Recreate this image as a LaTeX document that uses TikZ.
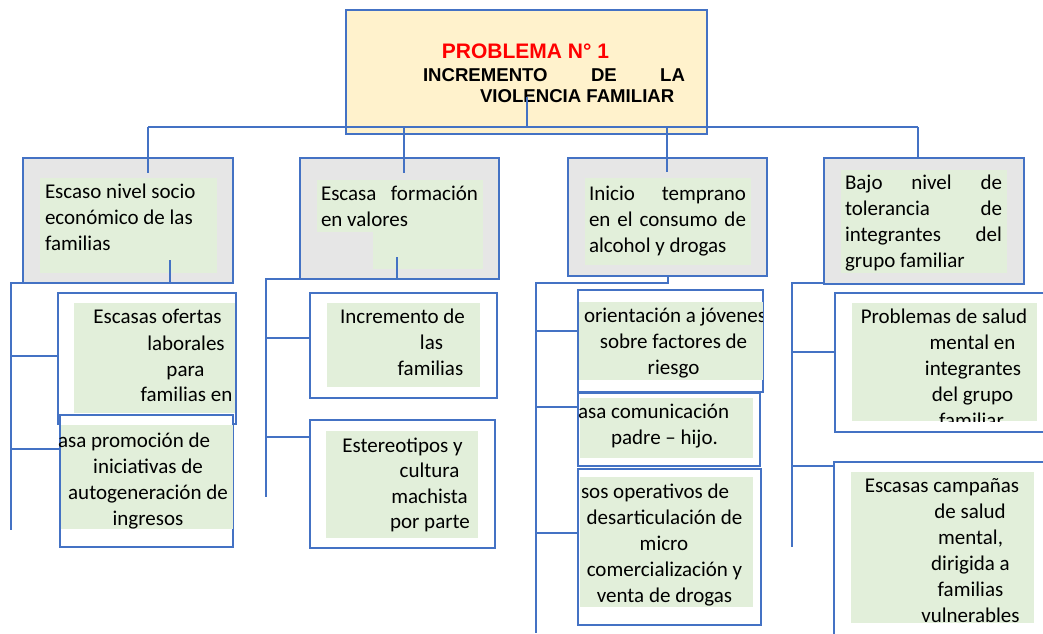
\documentclass[tikz,border=0pt]{standalone}
\usepackage{fontspec}
\setmainfont{Carlito}
\newfontfamily\arialf{Liberation Sans}
\definecolor{bl}{HTML}{4472C4}
\definecolor{gr}{HTML}{E2EFDA}
\definecolor{gy}{HTML}{E6E6E6}
\definecolor{yl}{HTML}{FFF2CC}
\definecolor{rd}{HTML}{FF0000}
\newcounter{ln}
\newcommand\tl[4][]{\stepcounter{ln}\node[txt,#1] (l\arabic{ln}) at (#2,#3) {#4};}
\tikzset{
  box/.style={draw=bl, line width=2.5pt, anchor=north west, inner sep=0pt, outer sep=0pt, fill=white},
  mainbox/.style={box, fill=gy},
  topbox/.style={box, fill=yl},
  conn/.style={draw=bl, line width=1.2pt},
  txt/.style={inner sep=0pt, outer sep=0pt, anchor=base, font=\fontsize{21}{26}\selectfont},
  ttl/.style={txt, font=\arialf\bfseries\fontsize{21}{25}\selectfont, text=rd},
  sub/.style={txt, anchor=base west, font=\arialf\bfseries\fontsize{18.6}{21}\selectfont},
}
\begin{document}
\begin{tikzpicture}[x=1pt,y=-1pt]
\useasboundingbox (0,0) rectangle (1043,633);
\fill[white] (0,0) rectangle (1043,633);
% top box
\node[topbox, minimum width=361pt, minimum height=124pt] (top) at (346,10) {};
\tl[ttl]{525.5}{58}{PROBLEMA N° 1}
\tl[sub]{423}{81}{\makebox[262pt][s]{INCREMENTO DE LA}}
\tl[sub]{480}{102}{VIOLENCIA FAMILIAR}
% main boxes
\node[mainbox, minimum width=210pt, minimum height=125pt] (m1) at (23,158) {};
\node[mainbox, minimum width=199pt, minimum height=121pt] (m2) at (300,158) {};
\node[mainbox, minimum width=199pt, minimum height=118pt] (m3) at (568,158) {};
\node[mainbox, minimum width=200pt, minimum height=126pt] (m4) at (824,158) {};
\fill[gr] (40,178) rectangle (217,273);
\fill[gr] (317,180) rectangle (483,232);
\fill[gr] (373,232) rectangle (483,269);
\fill[gr] (585,178) rectangle (751,265);
\fill[gr] (841,170) rectangle (1007,273);
\tl[anchor=base west]{45}{198}{Escaso nivel socio}
\tl[anchor=base west]{45}{224}{económico de las}
\tl[anchor=base west]{45}{250}{familias}
\tl[anchor=base west]{321}{200}{\makebox[157pt][s]{Escasa formación}}
\tl[anchor=base west]{321}{226}{en valores}
\tl[anchor=base west]{589}{200}{\makebox[157pt][s]{Inicio temprano}}
\tl[anchor=base west]{589}{226}{\makebox[157pt][s]{en el consumo de}}
\tl[anchor=base west]{589}{252}{alcohol y drogas}
\tl[anchor=base west]{845}{189}{\makebox[157pt][s]{Bajo nivel de}}
\tl[anchor=base west]{845}{215}{\makebox[157pt][s]{tolerancia de}}
\tl[anchor=base west]{845}{241}{\makebox[157pt][s]{integrantes del}}
\tl[anchor=base west]{845}{267}{grupo familiar}
% column 1 sub boxes
\node[box, minimum width=178pt, minimum height=131pt] (s1a) at (58,293) {};
\fill[gr] (74,303) rectangle (235,413);
\tl{157.5}{323}{Escasas ofertas}
\tl{186}{350}{laborales}
\tl{185.5}{376}{para}
\tl{186.5}{401}{familias en}
\node[box, minimum width=173pt, minimum height=132pt] (s1b) at (60,415) {};
\fill[gr] (61,425) rectangle (233,529);
\tl[anchor=base west]{58}{447}{asa promoción de}
\tl{148}{473}{iniciativas de}
\tl{148}{499}{autogeneración de}
\tl{148}{525}{ingresos}
% column 2 sub boxes
\node[box, minimum width=187pt, minimum height=105pt] (s2a) at (310,293) {};
\fill[gr] (327,303) rectangle (480,387);
\tl{402.5}{323}{Incremento de}
\tl{431.5}{349}{las}
\tl{430.5}{375}{familias}
\node[box, minimum width=185pt, minimum height=128pt] (s2b) at (310,420) {};
\fill[gr] (326,431) rectangle (478,538);
\tl{402.5}{452}{Estereotipos y}
\tl{429.5}{477}{cultura}
\tl{429.5}{503}{machista}
\tl{430}{528}{por parte}
% column 3 sub boxes
\node[box, minimum width=185pt, minimum height=102pt] (s3a) at (578,290) {};
\fill[gr] (579,302) rectangle (763,380);
\begin{scope}
\clip (579,291) rectangle (762,391);
\tl[anchor=base west]{584}{322}{orientación a jóvenes}
\end{scope}
\tl{673.5}{348}{sobre factores de}
\tl{673.5}{374}{riesgo}
\node[box, minimum width=182pt, minimum height=73pt] (s3b) at (578,393) {};
\fill[gr] (580,398) rectangle (753,458);
\tl[anchor=base west]{578}{418}{asa comunicación}
\tl{664.5}{444}{padre – hijo.}
\node[box, minimum width=183pt, minimum height=156pt] (s3c) at (578,469) {};
\fill[gr] (580,477) rectangle (753,607);
\tl[anchor=base west]{581}{498}{sos operativos de}
\tl{664.5}{524}{desarticulación de}
\tl{664}{550}{micro}
\tl{664.5}{576}{comercialización y}
\tl{664.5}{602}{venta de drogas}
% column 4 sub boxes
\node[box, minimum width=225pt, minimum height=139pt] (s4a) at (835,293) {};
\fill[gr] (852,303) rectangle (1037,421);
\tl{944}{323}{Problemas de salud}
\tl{972.5}{349}{mental en}
\tl{973}{375}{integrantes}
\tl{972.5}{401}{del grupo}
\begin{scope}
\clip (852,303) rectangle (1037,421);
\tl{971.5}{427}{familiar}
\end{scope}
\node[box, minimum width=226pt, minimum height=188pt] (s4b) at (834,462) {};
\fill[gr] (851,472) rectangle (1034,623);
\tl{942}{492}{Escasas campañas}
\tl{970}{518}{de salud}
\tl{970.5}{544}{mental,}
\tl{970.5}{570}{dirigida a}
\tl{970.5}{596}{familias}
\tl{970.5}{622}{vulnerables}
% connectors
\coordinate (tp) at (527,97);
\coordinate (busL) at (148,127);
\coordinate (busR) at (918,127);
\coordinate (busC) at (527,127);
\draw[conn] (tp) -- (busC);
\draw[conn] (busL) -- (busR);
\coordinate (d1) at (148,173);
\coordinate (d2) at (404,173);
\coordinate (d3) at (667,172);
\draw[conn] (busL) -- (d1);
\draw[conn] (busL -| d2) -- (d2);
\draw[conn] (busL -| d3) -- (d3);
\draw[conn] (busR) -- (m4.north -| busR);
% column 1
\coordinate (e1) at (170,260);
\coordinate (v1) at (11,530);
\draw[conn] (e1) -- (e1 |- m1.south) -- (v1 |- m1.south) -- (v1);
\draw[conn] (v1 |- 0,356) -- (s1a.west |- 0,356);
\draw[conn] (v1 |- 0,449) -- (s1b.west |- 0,449);
% column 2
\coordinate (e2) at (397,257);
\coordinate (v2) at (266,497);
\draw[conn] (e2) -- (e2 |- m2.south) -- (v2 |- m2.south) -- (v2);
\draw[conn] (v2 |- 0,338) -- (s2a.west |- 0,338);
\draw[conn] (v2 |- 0,437) -- (s2b.west |- 0,437);
% column 3
\coordinate (e3) at (668,283);
\coordinate (v3) at (536,633);
\draw[conn] (m3.south -| e3) -- (e3) -- (v3 |- e3) -- (v3);
\draw[conn] (v3 |- 0,331) -- (s3a.west |- 0,331);
\draw[conn] (v3 |- 0,407) -- (s3b.west |- 0,407);
\draw[conn] (v3 |- 0,533) -- (s3c.west |- 0,533);
% column 4
\coordinate (e4) at (824,283);
\coordinate (v4) at (792,547);
\draw[conn] (e4) -- (v4 |- e4) -- (v4);
\draw[conn] (v4 |- 0,352) -- (s4a.west |- 0,352);
\draw[conn] (v4 |- 0,466) -- (s4b.west |- 0,466);
\end{tikzpicture}
\end{document}
